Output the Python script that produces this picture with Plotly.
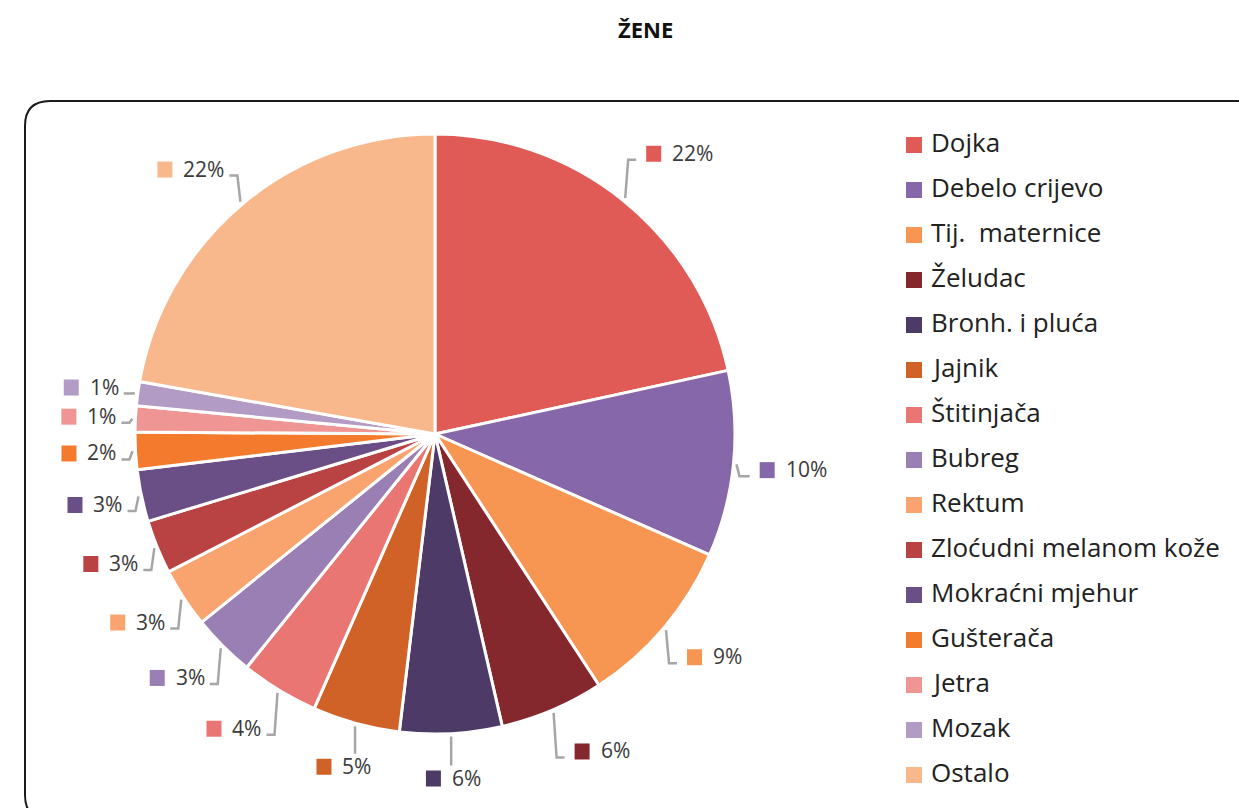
import math
import plotly.graph_objects as go

W, H = 1239, 808

labels = ["Dojka", "Debelo crijevo", "Tij.  maternice", "Želudac", "Bronh. i pluća",
          "Jajnik", "Štitinjača", "Bubreg", "Rektum", "Zloćudni melanom kože",
          "Mokraćni mjehur", "Gušterača", "Jetra", "Mozak", "Ostalo"]
values = [21.6, 10.0, 9.2, 5.6, 5.5, 4.7, 4.2, 3.4, 3.2, 2.9, 2.8, 2.0, 1.4, 1.3, 22.2]
pct_text = ["22%", "10%", "9%", "6%", "6%", "5%", "4%", "3%", "3%", "3%", "3%", "2%", "1%", "1%", "22%"]
colors = ["#E05A56", "#8667AA", "#F79553", "#85282E", "#4E3A66", "#D06227", "#E97672",
          "#9A7FB4", "#F9A46F", "#B94242", "#6A4E86", "#F47B2E", "#EF9593", "#B29CC6", "#F9B78C"]

FONT = "Open Sans"
CX, CY, R = 435, 434, 300


def px(x):
    return x / W


def py(y):
    return 1 - y / H


fig = go.Figure(go.Pie(
    labels=labels, values=values, sort=False, direction="clockwise", rotation=0,
    marker=dict(colors=colors, line=dict(color="white", width=3)),
    textinfo="none", showlegend=False,
    domain=dict(x=[px(CX - R), px(CX + R)], y=[py(CY + R), py(CY - R)]),
))

shapes = []
annotations = []

# rounded frame
shapes.append(dict(
    type="path", xref="paper", yref="paper",
    path=(f"M {px(1300)},{py(820)} L {px(50)},{py(820)} Q {px(25)},{py(820)} {px(25)},{py(795)} "
          f"L {px(25)},{py(126)} Q {px(25)},{py(101)} {px(50)},{py(101)} L {px(1300)},{py(101)}"),
    line=dict(color="#1a1a1a", width=2),
))

# data labels with leader lines
total = sum(values)
cum = 0.0
for v, t, c in zip(values, pct_text, colors):
    mid = (cum + v / 2) / total * 2 * math.pi
    cum += v
    s, co = math.sin(mid), math.cos(mid)
    sg = 1 if s > 0 else -1
    p1x, p1y = CX + R * 1.01 * s, CY - R * 1.01 * co
    rl = R * (1.2 if (s > 0 and co > -0.5) else 1.15)
    lx, ly = CX + rl * s, CY - rl * co
    gw = 25 + 12 * (len(t) - 1) + 18
    if abs(s) < 0.3:
        left = lx - gw / 2
        pts = [(p1x, p1y), (p1x, ly - 13 if co < 0 else ly + 13)]
    else:
        cy = ly + 6
        cx = p1x + 3 * sg
        if s > 0:
            left = max(lx - gw / 2, cx + 18)
            ex = left - 10
        else:
            right = min(lx + gw / 2, cx - 13)
            left = right - gw
            ex = right + 5
        pts = [(p1x, p1y), (cx, cy), (ex, cy)]
    path = "M " + " L ".join(f"{px(a)},{py(b)}" for a, b in pts)
    shapes.append(dict(type="path", xref="paper", yref="paper", path=path,
                       line=dict(color="#A6A6A6", width=2.5)))
    shapes.append(dict(type="rect", xref="paper", yref="paper",
                       x0=px(left), x1=px(left + 15), y0=py(ly + 8), y1=py(ly - 8),
                       fillcolor=c, line=dict(width=0)))
    annotations.append(dict(x=px(left + 24), y=py(ly - 1), xref="paper", yref="paper",
                            text=t, showarrow=False, xanchor="left", yanchor="middle",
                            font=dict(family=FONT, size=21, color="#3a3a3a")))

# legend drawn from the category list
for i, (lab, c) in enumerate(zip(labels, colors)):
    yc = 145 + 45 * i
    shapes.append(dict(type="rect", xref="paper", yref="paper",
                       x0=px(906), x1=px(922), y0=py(yc + 8), y1=py(yc - 8),
                       fillcolor=c, line=dict(width=0)))
    annotations.append(dict(x=px(929), y=py(yc - 3), xref="paper", yref="paper",
                            text=lab, showarrow=False, xanchor="left", yanchor="middle",
                            font=dict(family=FONT, size=26, color="#222222")))

# title
annotations.append(dict(x=px(645), y=py(29), xref="paper", yref="paper",
                        text="<b>ŽENE</b>", showarrow=False, xanchor="center", yanchor="middle",
                        font=dict(family=FONT, size=22, color="#111111")))

fig.update_layout(
    width=W, height=H, margin=dict(l=0, r=0, t=0, b=0),
    paper_bgcolor="white", plot_bgcolor="white",
    shapes=shapes, annotations=annotations, showlegend=False,
)

fig.write_html("out.html", config={"displayModeBar": False},
               post_script="document.body.style.margin='0';")
